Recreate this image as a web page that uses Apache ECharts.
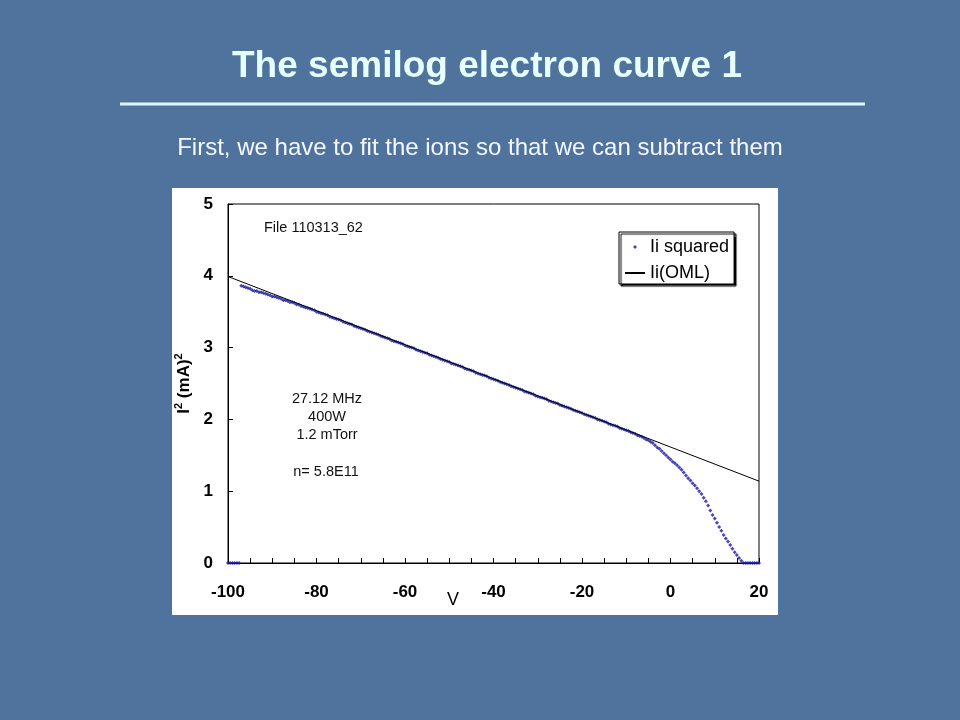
<!DOCTYPE html>
<html><head><meta charset="utf-8">
<script src="https://cdn.jsdelivr.net/npm/echarts@6/dist/echarts.min.js"></script>
<style>html,body{margin:0;padding:0;background:#5075a0;}#c{width:960px;height:720px;}</style>
</head><body><div id="c"></div>
<script>
// Probe voltage (V)
const volts = [
-100,-99.5,-99,-98.5,-98,-97.5,
-97,-96.5,-96,-95.5,-95,-94.5,-94,-93.5,-93,-92.5,-92,-91.5,-91,-90.5,-90,-89.5,-89,-88.5,-88,-87.5,-87,-86.5,-86,-85.5,-85,-84.5,-84,-83.5,
-83,-82.5,-82,-81.5,-81,-80.5,
-80,-79.5,-79,-78.5,-78,-77.5,-77,-76.5,-76,-75.5,-75,-74.5,-74,-73.5,-73,-72.5,-72,-71.5,-71,-70.5,
-70,-69.5,-69,-68.5,-68,-67.5,-67,-66.5,-66,-65.5,-65,-64.5,-64,-63.5,-63,-62.5,-62,-61.5,-61,-60.5,
-60,-59.5,-59,-58.5,-58,-57.5,-57,-56.5,-56,-55.5,-55,-54.5,-54,-53.5,-53,-52.5,-52,-51.5,-51,-50.5,
-50,-49.5,-49,-48.5,-48,-47.5,-47,-46.5,-46,-45.5,-45,-44.5,-44,-43.5,-43,-42.5,-42,-41.5,-41,-40.5,
-40,-39.5,-39,-38.5,-38,-37.5,-37,-36.5,-36,-35.5,-35,-34.5,-34,-33.5,-33,-32.5,-32,-31.5,-31,-30.5,
-30,-29.5,-29,-28.5,-28,-27.5,-27,-26.5,-26,-25.5,-25,-24.5,-24,-23.5,-23,-22.5,-22,-21.5,-21,-20.5,
-20,-19.5,-19,-18.5,-18,-17.5,-17,-16.5,-16,-15.5,-15,-14.5,-14,-13.5,-13,-12.5,-12,-11.5,-11,-10.5,
-10,-9.5,-9,-8.5,-8,-7.5,-7,-6.5,-6,-5.5,-5,-4.5,-4,-3.5,-3,-2.5,-2,-1.5,-1,-0.5,
0,0.5,1,1.5,2,2.5,3,3.5,4,4.5,5,5.5,6,6.5,7,7.5,8,8.5,9,9.5,
10,10.5,11,11.5,12,12.5,13,13.5,14,14.5,15,15.5,16,16.5,17,17.5,18,18.5,19,19.5,
20
];
// Ion current squared, (mA)^2
const iiSquared = [
0,0,0,0,0,0,
3.86,3.85,3.84,3.83,3.82,3.80,3.79,3.79,3.77,3.77,3.76,3.75,3.74,3.73,3.71,3.71,3.70,3.69,3.68,3.66,3.66,3.65,3.63,3.63,3.62,3.60,3.60,3.58,
3.57,3.56,3.55,3.54,3.53,3.52,
3.50,3.49,3.48,3.47,3.46,3.45,3.43,3.42,3.41,3.40,3.39,3.38,3.36,3.35,3.34,3.33,3.32,3.30,3.29,3.28,
3.27,3.26,3.25,3.23,3.22,3.21,3.20,3.19,3.18,3.16,3.15,3.14,3.13,3.12,3.10,3.09,3.08,3.07,3.06,3.05,
3.03,3.02,3.01,3.00,2.99,2.97,2.96,2.95,2.94,2.93,2.92,2.90,2.89,2.88,2.87,2.86,2.84,2.83,2.82,2.81,
2.80,2.78,2.77,2.76,2.75,2.74,2.73,2.71,2.70,2.69,2.68,2.67,2.65,2.64,2.63,2.62,2.61,2.60,2.58,2.57,
2.56,2.55,2.54,2.52,2.51,2.50,2.49,2.48,2.46,2.45,2.44,2.43,2.42,2.41,2.39,2.38,2.37,2.36,2.35,2.33,
2.32,2.31,2.30,2.29,2.28,2.26,2.25,2.24,2.23,2.22,2.20,2.19,2.18,2.17,2.16,2.15,2.13,2.12,2.11,2.10,
2.09,2.07,2.06,2.05,2.04,2.03,2.02,2.00,1.99,1.98,1.97,1.96,1.94,1.93,1.92,1.91,1.90,1.88,1.87,1.86,
1.85,1.84,1.82,1.81,1.80,1.78,1.77,1.76,1.74,1.72,1.71,1.69,1.67,1.64,1.61,1.59,1.56,1.53,1.50,1.47,
1.44,1.41,1.39,1.36,1.33,1.30,1.26,1.22,1.18,1.15,1.11,1.08,1.04,1.00,0.96,0.91,0.86,0.80,0.73,0.67,
0.62,0.56,0.50,0.45,0.39,0.34,0.30,0.25,0.20,0.15,0.11,0.07,0.03,0,0,0,0,0,0,0,
0
];
// OML fit line endpoints
const omlVolts = [-100, 20];
const omlValues = [3.99, 1.14];

const titleText = 'The semilog electron curve 1';
const subtitleText = 'First, we have to fit the ions so that we can subtract them';
const notes = ['File 110313_62', '27.12 MHz', '400W', '1.2 mTorr', 'n= 5.8E11'];

const chart = echarts.init(document.getElementById('c'));
const FONT = 'Arial, "Liberation Sans", sans-serif';
chart.setOption({
  animation: false,
  backgroundColor: '#4f739d',
  textStyle: {fontFamily: FONT},
  graphic: [
    {type: 'rect', z: -100, silent: true, shape: {x: 172, y: 188, width: 606, height: 427}, style: {fill: '#ffffff'}},
    {type: 'text', x: 487, y: 67, style: {text: titleText, fill: '#e6ffff', font: 'bold 37px ' + FONT, align: 'center', verticalAlign: 'middle'}},
    {type: 'line', shape: {x1: 120, y1: 104, x2: 865, y2: 104}, style: {stroke: '#dff7ff', lineWidth: 3}},
    {type: 'text', x: 480, y: 148, style: {text: subtitleText, fill: '#f4f8ff', font: '24px ' + FONT, align: 'center', verticalAlign: 'middle'}},
    {type: 'text', x: 264, y: 228, style: {text: notes[0], fill: '#111', font: '14.5px ' + FONT, align: 'left', verticalAlign: 'middle'}},
    {type: 'text', x: 327, y: 399, style: {text: notes[1], fill: '#111', font: '14.5px ' + FONT, align: 'center', verticalAlign: 'middle'}},
    {type: 'text', x: 327, y: 417, style: {text: notes[2], fill: '#111', font: '14.5px ' + FONT, align: 'center', verticalAlign: 'middle'}},
    {type: 'text', x: 327, y: 435, style: {text: notes[3], fill: '#111', font: '14.5px ' + FONT, align: 'center', verticalAlign: 'middle'}},
    {type: 'text', x: 326, y: 472, style: {text: notes[4], fill: '#111', font: '14.5px ' + FONT, align: 'center', verticalAlign: 'middle'}},
    {type: 'text', x: 453, y: 600, style: {text: 'V', fill: '#000', font: '18px ' + FONT, align: 'center', verticalAlign: 'middle'}}
  ],
  grid: {left: 228, right: 201, top: 204, bottom: 157, show: true, borderColor: '#000', borderWidth: 1, backgroundColor: 'transparent'},
  legend: {
    orient: 'vertical', left: 619, top: 232, padding: [6, 5, 2, 5],
    itemWidth: 20, itemHeight: 4, itemGap: 8, selectedMode: false,
    backgroundColor: '#fff', borderColor: '#000', borderWidth: 1,
    shadowColor: '#000', shadowBlur: 1, shadowOffsetX: 2, shadowOffsetY: 2,
    textStyle: {color: '#000', fontSize: 18, lineHeight: 18, fontFamily: FONT},
    data: [
      {name: 'Ii squared', icon: 'path://M2,0 L4,2 L2,4 L0,2 Z'},
      {name: 'Ii(OML)', itemStyle: {color: 'rgba(0,0,0,0)', borderWidth: 0, opacity: 0}}
    ]
  },
  xAxis: {
    type: 'value', min: -100, max: 20, interval: 5,
    axisLine: {show: true, onZero: false, lineStyle: {color: '#000', width: 1}},
    axisTick: {show: true, inside: true, length: 5, lineStyle: {color: '#000'}},
    splitLine: {show: false},
    axisLabel: {color: '#000', fontSize: 17, fontWeight: 'bold', margin: 21, fontFamily: FONT,
      formatter: v => (v % 20 === 0 ? String(v) : '')}
  },
  yAxis: {
    type: 'value', min: 0, max: 5, interval: 1,
    axisLine: {show: true, onZero: false, lineStyle: {color: '#000', width: 1}},
    axisTick: {show: true, inside: true, length: 5, lineStyle: {color: '#000'}},
    splitLine: {show: false},
    axisLabel: {color: '#000', fontSize: 17, fontWeight: 'bold', margin: 15, fontFamily: FONT},
    name: '{a|I}{s|2}{a| (mA)}{s|2}', nameLocation: 'middle', nameRotate: 90, nameGap: 24,
    nameTextStyle: {
      color: '#000',
      rich: {
        a: {fontSize: 17, fontWeight: 'bold', lineHeight: 22, color: '#000', fontFamily: FONT},
        s: {fontSize: 11, fontWeight: 'bold', lineHeight: 22, verticalAlign: 'top', color: '#000', fontFamily: FONT}
      }
    }
  },
  series: [
    {name: 'Ii squared', type: 'scatter', symbol: 'diamond', symbolSize: 4, silent: true,
      itemStyle: {color: '#1818a8'},
      data: volts.map((v, i) => [v, iiSquared[i]])},
    {name: 'Ii(OML)', type: 'line', symbol: 'none', silent: true, z: 3,
      lineStyle: {color: '#000', width: 1}, itemStyle: {color: '#000'},
      data: omlVolts.map((v, i) => [v, omlValues[i]])}
  ]
});
</script>
</body></html>
